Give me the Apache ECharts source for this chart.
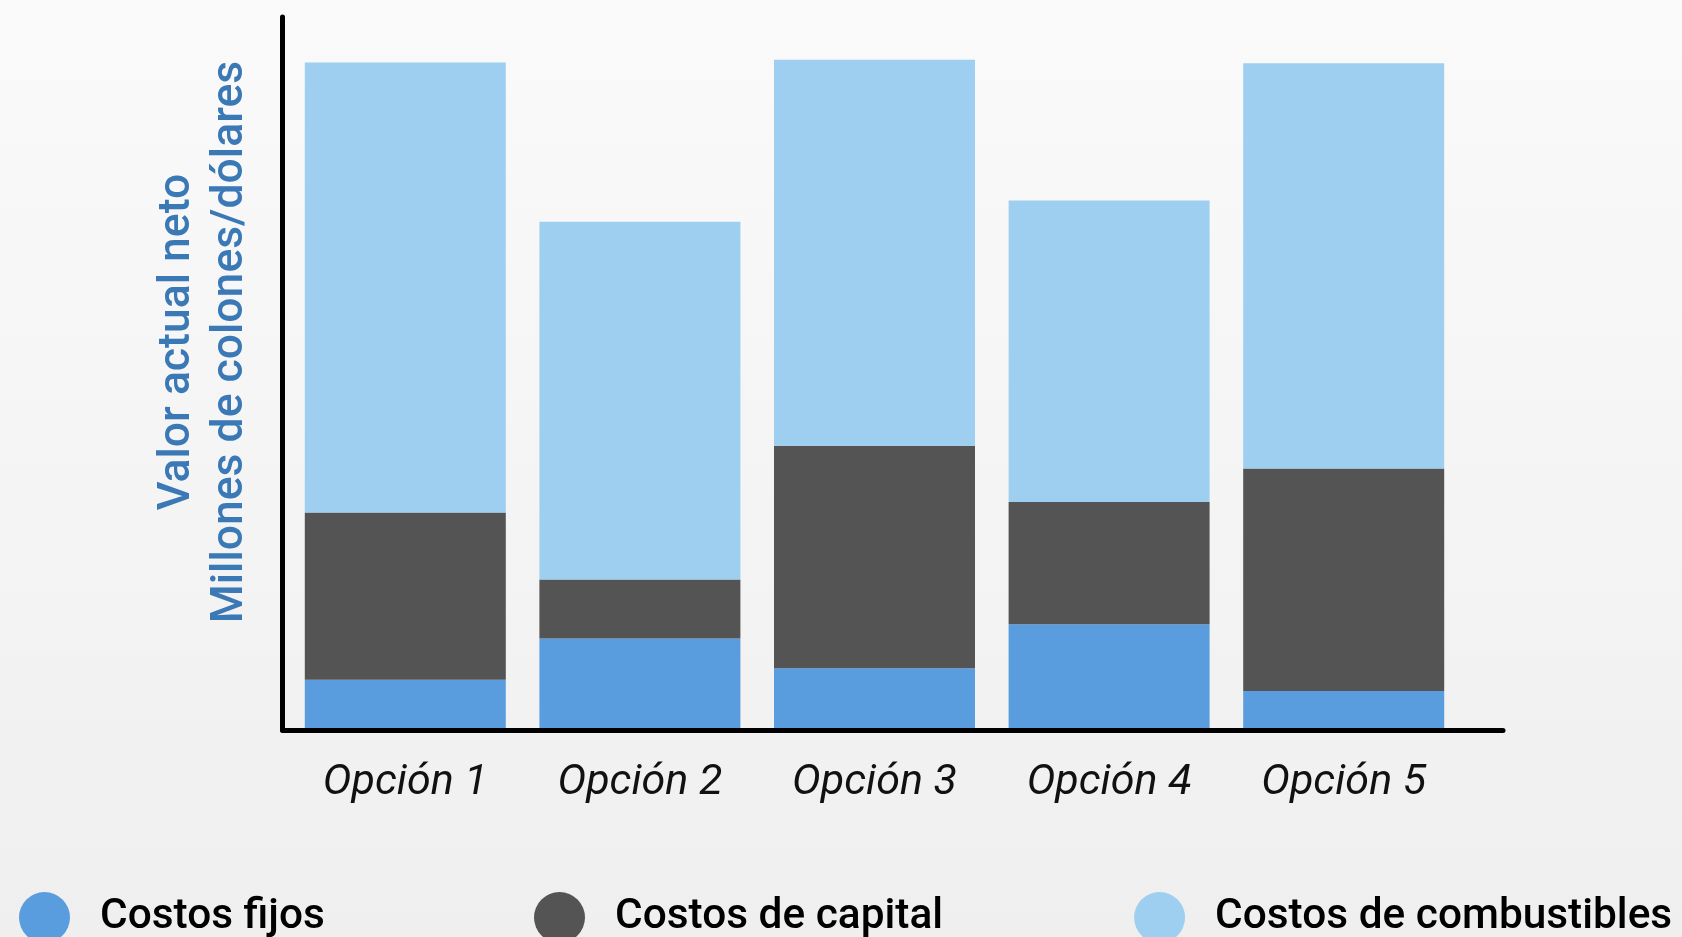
<!DOCTYPE html>
<html>
<head>
<meta charset="utf-8">
<script src="https://cdn.jsdelivr.net/npm/echarts@6/dist/echarts.min.js"></script>
<style>
html,body{margin:0;padding:0;width:1682px;height:937px;overflow:hidden;}
#chart{width:1682px;height:937px;}
</style>
</head>
<body>
<div id="chart"></div>
<script>
const categories = ['Opción 1', 'Opción 2', 'Opción 3', 'Opción 4', 'Opción 5'];
const fixedCosts = [6.8, 12.6, 8.4, 14.6, 5.2];
const capitalCosts = [23.5, 8.3, 31.3, 17.2, 31.3];
const fuelCosts = [63.3, 50.3, 54.3, 42.4, 57.0];
const seriesNames = ['Costos fijos', 'Costos de capital', 'Costos de combustibles'];
const yAxisTitle = 'Valor actual neto\nMillones de colones/dólares';

const colors = ['#5a9ddf', '#545454', '#9ecff1'];
const chart = echarts.init(document.getElementById('chart'));
const FONT = 'Roboto';

function barSeries(name, data, color) {
  return {
    name: name, type: 'bar', stack: 'total', data: data,
    xAxisIndex: 0, yAxisIndex: 0,
    barWidth: 201,
    itemStyle: { color: color },
    emphasis: { disabled: true }
  };
}

const legendText = { fontFamily: FONT, fontSize: 42.4, fontWeight: 500, color: '#000', padding: [0, 0, 0, 25] };
const legendBase = {
  top: 887, width: 1900,
  icon: 'circle', itemWidth: 51, itemHeight: 51, itemGap: 191,
  textStyle: legendText, selectedMode: false
};

chart.setOption({
  animation: false,
  backgroundColor: {
    type: 'linear', x: 0, y: 0, x2: 0, y2: 1,
    colorStops: [{ offset: 0, color: '#fafafa' }, { offset: 1, color: '#efefef' }]
  },
  textStyle: { fontFamily: FONT },
  grid: [
    { left: 288, right: 221, top: 17, bottom: 209 },
    { left: 282.5, right: 179, top: 17, bottom: 207 }
  ],
  xAxis: [
    {
      type: 'category', gridIndex: 0, data: categories,
      axisLine: { show: false }, axisTick: { show: false },
      axisLabel: { fontFamily: FONT, fontStyle: 'italic', fontSize: 43, color: '#111', margin: 34 }
    },
    {
      type: 'value', gridIndex: 1, min: 0, max: 1,
      axisLine: { show: true, lineStyle: { color: '#000', width: 5 } },
      axisTick: { show: false }, axisLabel: { show: false }, splitLine: { show: false }
    }
  ],
  yAxis: [
    { type: 'value', gridIndex: 0, min: 0, max: 100, show: false },
    {
      type: 'value', gridIndex: 1, min: 0, max: 1,
      axisLine: { show: true, lineStyle: { color: '#000', width: 5 } },
      axisTick: { show: false }, axisLabel: { show: false }, splitLine: { show: false }
    }
  ],
  legend: [
    Object.assign({}, legendBase, { left: 14, data: [seriesNames[0]] }),
    Object.assign({}, legendBase, { left: 529, data: [seriesNames[1], seriesNames[2]] })
  ],
  graphic: [{
    type: 'text',
    x: 204, y: 342,
    rotation: Math.PI / 2,
    style: {
      text: yAxisTitle,
      fontFamily: FONT, fontSize: 44.5, fontWeight: 500,
      lineHeight: 53,
      fill: '#3b78b6',
      align: 'center', verticalAlign: 'middle'
    }
  }],
  series: [
    barSeries(seriesNames[0], fixedCosts, colors[0]),
    barSeries(seriesNames[1], capitalCosts, colors[1]),
    barSeries(seriesNames[2], fuelCosts, colors[2])
  ]
});
</script>
</body>
</html>
